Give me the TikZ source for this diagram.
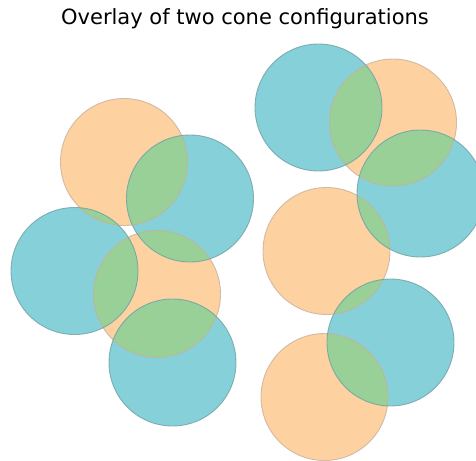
\documentclass[tikz,border=0pt]{standalone}
\usepackage{fontspec}
\setmainfont{DejaVu Sans}
\definecolor{conoA}{RGB}{254,209,160}
\definecolor{conoB}{RGB}{134,209,217}
\definecolor{conoAB}{RGB}{152,208,152}
\definecolor{edgeA}{RGB}{200,175,155}
\definecolor{edgeB}{RGB}{110,160,165}
\begin{document}
\begin{tikzpicture}[x=1pt,y=-1pt,
  ofill/.style={fill=conoA},
  tfill/.style={fill=conoB},
  gfill/.style={fill=conoAB},
  oedge/.style={draw=edgeA,line width=0.9pt,draw opacity=0.8},
  tedge/.style={draw=edgeB,line width=0.9pt,draw opacity=0.8}]
\useasboundingbox (0,0) rectangle (476,460);
\node (title) at (245,19) {\fontsize{21}{24}\selectfont Overlay of two cone configurations};
\clip (0,0) rectangle (476,460);
\def\orangelist{(124,162),(393,122.5),(157,294),(326.5,251),(324.5,397)}
\def\teallist{(318.5,107.5),(190,198.5),(74.5,271),(420.5,193.5),(390.5,342.5),(172.5,362.5)}
\foreach \c in \orangelist {\fill[ofill] \c circle[radius=63.5];}
\foreach \c in \teallist {\fill[tfill] \c circle[radius=63.5];}
\foreach \c in \orangelist {
  \begin{scope}
    \clip \c circle[radius=63.5];
    \foreach \d in \teallist {\fill[gfill] \d circle[radius=63.5];}
  \end{scope}
}
\foreach \c in \orangelist {\draw[oedge] \c circle[radius=63.5];}
\foreach \c in \teallist {\draw[tedge] \c circle[radius=63.5];}
\end{tikzpicture}
\end{document}
